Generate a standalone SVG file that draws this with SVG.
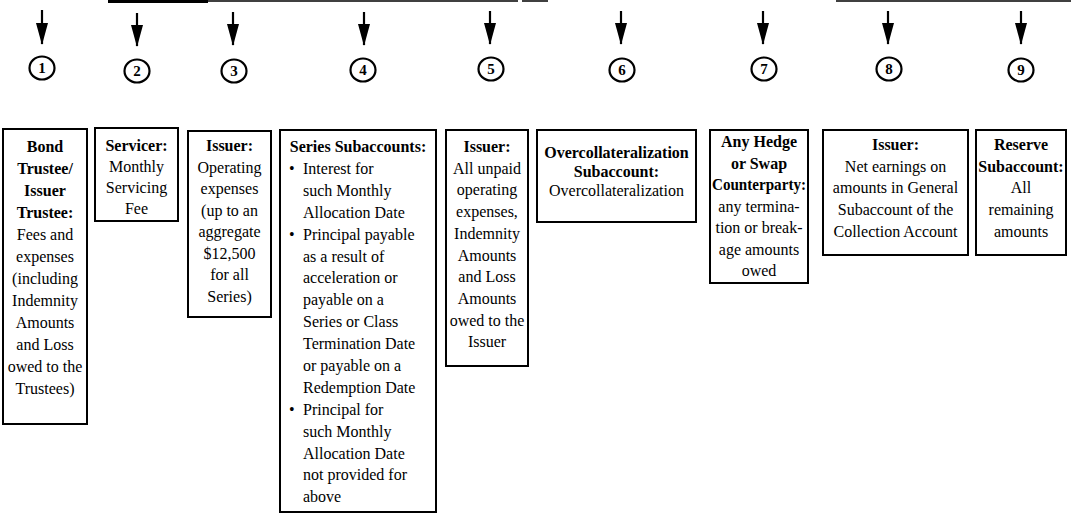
<svg xmlns="http://www.w3.org/2000/svg" width="1085" height="514" viewBox="0 0 1085 514">
<style>
.bx{fill:#fff;stroke:#000;stroke-width:2}
.t{font-family:"Liberation Serif","Times New Roman",serif;font-size:16px;fill:#000;text-anchor:middle}
.l{text-anchor:start}
.b{font-weight:bold}
.ci{fill:#fff;stroke:#000;stroke-width:2.2}
.n{font-family:"Liberation Serif","Times New Roman",serif;font-size:15px;font-weight:bold;text-anchor:middle;fill:#000}
.sh{stroke:#000;stroke-width:2.2;fill:none}
.tl{stroke:#000;fill:none}
</style>
<defs>
<marker id="ah" viewBox="0 0 22 12" refX="21" refY="6" markerWidth="22" markerHeight="12" markerUnits="userSpaceOnUse" orient="auto">
<path d="M0,0 L22,6 L0,12 z" fill="#000"/>
</marker>
</defs>
<rect width="1085" height="514" fill="#fff"/>
<g id="connectors">
<line class="tl" x1="108" y1="1.5" x2="208" y2="1.5" stroke-width="3"/>
<line class="tl" x1="208" y1="1" x2="518" y2="1" stroke-width="1.5"/>
<line class="tl" x1="522" y1="1" x2="548" y2="1" stroke-width="1.5"/>
<line class="tl" x1="836" y1="1" x2="1071" y2="1" stroke-width="1.5"/>
<line class="sh" x1="42" y1="10" x2="42" y2="44" marker-end="url(#ah)"/>
<line class="sh" x1="137" y1="13" x2="137" y2="46" marker-end="url(#ah)"/>
<line class="sh" x1="233" y1="12" x2="233" y2="45" marker-end="url(#ah)"/>
<line class="sh" x1="364" y1="12" x2="364" y2="45" marker-end="url(#ah)"/>
<line class="sh" x1="490" y1="11" x2="490" y2="44" marker-end="url(#ah)"/>
<line class="sh" x1="621" y1="11" x2="621" y2="44" marker-end="url(#ah)"/>
<line class="sh" x1="763" y1="11" x2="763" y2="44" marker-end="url(#ah)"/>
<line class="sh" x1="888" y1="11" x2="888" y2="44" marker-end="url(#ah)"/>
<line class="sh" x1="1021" y1="11" x2="1021" y2="44" marker-end="url(#ah)"/>
</g>
<g id="step1">
<ellipse class="ci" cx="42" cy="68" rx="12.5" ry="11.5"/>
<text class="n" x="42" y="73">1</text>
<rect class="bx" x="3" y="129" width="84" height="295"/>
<text class="t"><tspan class="b" x="45" y="152">Bond</tspan><tspan class="b" x="45" dy="22">Trustee/</tspan><tspan class="b" x="45" dy="22">Issuer</tspan><tspan class="b" x="45" dy="22">Trustee:</tspan><tspan x="45" dy="22">Fees and</tspan><tspan x="45" dy="22">expenses</tspan><tspan x="45" dy="22">(including</tspan><tspan x="45" dy="22">Indemnity</tspan><tspan x="45" dy="22">Amounts</tspan><tspan x="45" dy="22">and Loss</tspan><tspan x="45" dy="22">owed to the</tspan><tspan x="45" dy="22">Trustees)</tspan></text>
</g>
<g id="step2">
<ellipse class="ci" cx="137" cy="71" rx="12.5" ry="11.5"/>
<text class="n" x="137" y="76">2</text>
<rect class="bx" x="95" y="128" width="83" height="93"/>
<text class="t"><tspan class="b" x="136.5" y="151">Servicer:</tspan><tspan x="136.5" dy="21">Monthly</tspan><tspan x="136.5" dy="21">Servicing</tspan><tspan x="136.5" dy="21">Fee</tspan></text>
</g>
<g id="step3">
<ellipse class="ci" cx="234" cy="71" rx="12.5" ry="11.5"/>
<text class="n" x="234" y="76">3</text>
<rect class="bx" x="188" y="131" width="83" height="186"/>
<text class="t"><tspan class="b" x="229.5" y="151">Issuer:</tspan><tspan x="229.5" dy="21.5">Operating</tspan><tspan x="229.5" dy="21.5">expenses</tspan><tspan x="229.5" dy="21.5">(up to an</tspan><tspan x="229.5" dy="21.5">aggregate</tspan><tspan x="229.5" dy="21.5">$12,500</tspan><tspan x="229.5" dy="21.5">for all</tspan><tspan x="229.5" dy="21.5">Series)</tspan></text>
</g>
<g id="step4">
<ellipse class="ci" cx="363" cy="70" rx="12.5" ry="11.5"/>
<text class="n" x="363" y="75">4</text>
<rect class="bx" x="280" y="130" width="156" height="382"/>
<text class="t b" x="358" y="152">Series Subaccounts:</text>
<text class="t l"><tspan x="289" y="173.9">•</tspan><tspan x="289" dy="65.7">•</tspan><tspan x="289" dy="175.2">•</tspan></text>
<text class="t l"><tspan x="303" y="173.9">Interest for</tspan><tspan x="303" dy="21.9">such Monthly</tspan><tspan x="303" dy="21.9">Allocation Date</tspan><tspan x="303" dy="21.9">Principal payable</tspan><tspan x="303" dy="21.9">as a result of</tspan><tspan x="303" dy="21.9">acceleration or</tspan><tspan x="303" dy="21.9">payable on a</tspan><tspan x="303" dy="21.9">Series or Class</tspan><tspan x="303" dy="21.9">Termination Date</tspan><tspan x="303" dy="21.9">or payable on a</tspan><tspan x="303" dy="21.9">Redemption Date</tspan><tspan x="303" dy="21.9">Principal for</tspan><tspan x="303" dy="21.9">such Monthly</tspan><tspan x="303" dy="21.9">Allocation Date</tspan><tspan x="303" dy="21.9">not provided for</tspan><tspan x="303" dy="21.9">above</tspan></text>
</g>
<g id="step5">
<ellipse class="ci" cx="491" cy="69" rx="12.5" ry="11.5"/>
<text class="n" x="491" y="74">5</text>
<rect class="bx" x="446" y="130" width="82" height="236"/>
<text class="t"><tspan class="b" x="487" y="152">Issuer:</tspan><tspan x="487" dy="21.7">All unpaid</tspan><tspan x="487" dy="21.7">operating</tspan><tspan x="487" dy="21.7">expenses,</tspan><tspan x="487" dy="21.7">Indemnity</tspan><tspan x="487" dy="21.7">Amounts</tspan><tspan x="487" dy="21.7">and Loss</tspan><tspan x="487" dy="21.7">Amounts</tspan><tspan x="487" dy="21.7">owed to the</tspan><tspan x="487" dy="21.7">Issuer</tspan></text>
</g>
<g id="step6">
<ellipse class="ci" cx="622" cy="70" rx="12.5" ry="11.5"/>
<text class="n" x="622" y="75">6</text>
<rect class="bx" x="537" y="130" width="159" height="92"/>
<text class="t"><tspan class="b" x="616.5" y="158">Overcollateralization</tspan><tspan class="b" x="616.5" dy="19">Subaccount:</tspan><tspan x="616.5" dy="19">Overcollateralization</tspan></text>
</g>
<g id="step7">
<ellipse class="ci" cx="764" cy="69" rx="12.5" ry="11.5"/>
<text class="n" x="764" y="74">7</text>
<rect class="bx" x="710" y="130" width="98" height="153"/>
<text class="t"><tspan class="b" x="759" y="147">Any Hedge</tspan><tspan class="b" x="759" dy="21.5">or Swap</tspan><tspan class="b" x="759" dy="21.5" textLength="94" lengthAdjust="spacingAndGlyphs">Counterparty:</tspan><tspan x="759" dy="21.5">any termina-</tspan><tspan x="759" dy="21.5">tion or break-</tspan><tspan x="759" dy="21.5">age amounts</tspan><tspan x="759" dy="21.5">owed</tspan></text>
</g>
<g id="step8">
<ellipse class="ci" cx="889" cy="69" rx="12.5" ry="11.5"/>
<text class="n" x="889" y="74">8</text>
<rect class="bx" x="823" y="130" width="145" height="125"/>
<text class="t"><tspan class="b" x="895.5" y="150">Issuer:</tspan><tspan x="895.5" dy="21.7">Net earnings on</tspan><tspan x="895.5" dy="21.7">amounts in General</tspan><tspan x="895.5" dy="21.7">Subaccount of the</tspan><tspan x="895.5" dy="21.7">Collection Account</tspan></text>
</g>
<g id="step9">
<ellipse class="ci" cx="1021" cy="70" rx="12.5" ry="11.5"/>
<text class="n" x="1021" y="75">9</text>
<rect class="bx" x="976" y="130" width="90" height="125"/>
<text class="t"><tspan class="b" x="1021" y="150">Reserve</tspan><tspan class="b" x="1021" dy="21.7">Subaccount:</tspan><tspan x="1021" dy="21.7">All</tspan><tspan x="1021" dy="21.7">remaining</tspan><tspan x="1021" dy="21.7">amounts</tspan></text>
</g>
</svg>
